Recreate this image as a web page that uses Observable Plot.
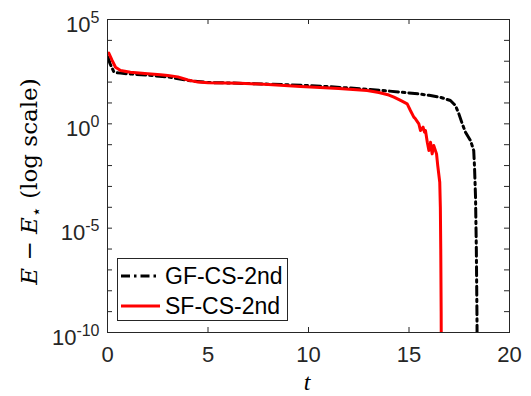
<!DOCTYPE html>
<html><head><meta charset="utf-8">
<script src="https://cdn.jsdelivr.net/npm/d3@7"></script>
<script src="https://cdn.jsdelivr.net/npm/@observablehq/plot@0.6"></script>
<style>
body{margin:0;background:#fff;}
#wrap{position:relative;width:531px;height:396px;}
#legend{position:absolute;left:117px;top:258px;width:171px;height:63px;border:1px solid #262626;background:#fff;
  font-family:"Liberation Sans",Arial,sans-serif;font-size:23px;color:#000;box-sizing:border-box;}
.row{position:absolute;left:3px;height:30px;display:flex;align-items:center;}
.row svg{margin-right:4px;}
</style></head><body><div id="wrap"><div id="legend"></div></div>
<script>
const seriesNames = ["GF-CS-2nd", "SF-CS-2nd"];
const seriesColors = ["#000000", "#ff0000"];
// GF-CS-2nd: time and log10(E - E*)
const gfT   = [0.02, 0.12, 0.31, 0.45, 0.65, 1.0, 2.0, 3.0, 4.0, 5.0, 6.0, 7.0, 8.0, 9.0, 10.0, 11.0, 12.0, 13.0, 14.0, 14.6, 15.5, 16.0, 16.57, 17.06, 17.31, 17.48, 17.65, 17.81, 18.06, 18.22, 18.26, 18.31, 18.35, 18.38, 18.40];
const gfLog = [3.2, 2.9, 2.5, 2.45, 2.43, 2.40, 2.33, 2.25, 2.08, 1.98, 1.96, 1.93, 1.90, 1.87, 1.83, 1.78, 1.72, 1.65, 1.57, 1.52, 1.43, 1.37, 1.27, 1.12, 0.88, 0.48, 0.0, -0.4, -0.8, -1.28, -2.08, -3.51, -6, -9, -12];
// SF-CS-2nd
const sfT   = [0.065, 0.23, 0.4, 0.65, 1.14, 2.0, 2.64, 3.0, 3.5, 4.0, 4.5, 5.0, 6.6, 8.0, 9.6, 10.1, 11.5, 12.92, 13.5, 14.0, 14.25, 14.58, 14.91, 15.07, 15.24, 15.32, 15.49, 15.57, 15.7, 15.77, 15.82, 15.91, 15.99, 16.07, 16.15, 16.23, 16.37, 16.43, 16.53, 16.56, 16.58, 16.6, 16.61];
const sfLog = [3.39, 3.04, 2.71, 2.56, 2.47, 2.40, 2.35, 2.32, 2.25, 2.1, 2.0, 1.97, 1.95, 1.88, 1.79, 1.76, 1.69, 1.6, 1.5, 1.38, 1.28, 1.12, 0.96, 0.64, 0.32, 0.24, 0.0, -0.32, -0.16, -0.4, -0.32, -0.88, -1.28, -0.88, -1.44, -1.04, -1.44, -2.0, -2.8, -4, -6, -9, -12];
const xTicks = [0, 5, 10, 15, 20];
const yTickExps = [-10, -9, -8, -7, -6, -5, -4, -3, -2, -1, 0, 1, 2, 3, 4, 5];
const yLabelExps = [-10, -5, 0, 5];

const data = [
  ...gfT.map((t, i) => ({t, v: Math.pow(10, gfLog[i]), s: seriesNames[0]})),
  ...sfT.map((t, i) => ({t, v: Math.pow(10, sfLog[i]), s: seriesNames[1]}))
];
const yTicks = yTickExps.map(e => Math.pow(10, e));
const yFmt = d => { const e = Math.round(Math.log10(d)); return yLabelExps.includes(e) ? `10^${e}` : ""; };
const axisColor = "#262626";
const dash = "9,4,2.5,4";
const W = 531, H = 396, mL = 107, mR = 22, mT = 19, mB = 64;
const innerW = W - mL - mR, innerH = H - mT - mB, tickLen = 5;

const plot = Plot.plot({
  width: W, height: H,
  marginLeft: mL, marginRight: mR, marginTop: mT, marginBottom: mB,
  style: {fontFamily: "'Liberation Sans', Arial, sans-serif", fontSize: "22px", color: axisColor, background: "#fff"},
  x: {domain: [0, 20], label: null},
  y: {type: "log", domain: [1e-10, 1e5], label: null},
  marks: [
    Plot.axisX({anchor: "bottom", ticks: xTicks, tickSize: 0, tickPadding: 14, tickFormat: d => String(d), label: null}),
    Plot.axisY({anchor: "left", ticks: yTicks, tickSize: 0, tickPadding: 8, tickFormat: yFmt, label: null}),
    // inward ticks on all four sides
    Plot.tickX(xTicks, {x: d => d, stroke: axisColor, insetTop: innerH - tickLen}),
    Plot.tickX(xTicks, {x: d => d, stroke: axisColor, insetBottom: innerH - tickLen}),
    Plot.tickY(yTicks, {y: d => d, stroke: axisColor, insetRight: innerW - tickLen}),
    Plot.tickY(yTicks, {y: d => d, stroke: axisColor, insetLeft: innerW - tickLen}),
    Plot.line(data.filter(d => d.s === seriesNames[0]), {x: "t", y: "v", stroke: seriesColors[0], strokeWidth: 3, strokeDasharray: dash, clip: true}),
    Plot.line(data.filter(d => d.s === seriesNames[1]), {x: "t", y: "v", stroke: seriesColors[1], strokeWidth: 3, clip: true}),
    Plot.frame({stroke: axisColor, strokeWidth: 1})
  ]
});
const wrap = document.getElementById("wrap");
wrap.insertBefore(plot, wrap.firstChild);
const ns = "http://www.w3.org/2000/svg";
const svg = d3.select(plot);

// superscript tick labels
plot.querySelectorAll('g[aria-label="y-axis tick label"] text').forEach(t => {
  const s = t.textContent;
  if (!s.includes("^")) return;
  const [b, e] = s.split("^");
  t.textContent = "";
  t.setAttribute("dy", "5");
  const t1 = document.createElementNS(ns, "tspan"); t1.textContent = b;
  const t2 = document.createElementNS(ns, "tspan"); t2.textContent = e;
  t2.setAttribute("dy", "-9"); t2.setAttribute("font-size", "16");
  t.append(t1, t2);
});

// axis labels (LaTeX-like)
const yl = svg.append("text")
  .attr("transform", "translate(37,181.5) rotate(-90)")
  .attr("text-anchor", "middle")
  .attr("font-family", "'DejaVu Serif', 'Liberation Serif', serif")
  .attr("font-size", 23).attr("fill", "#000");
yl.append("tspan").attr("font-style", "italic").text("E");
yl.append("tspan").text(" \u2212 ");
yl.append("tspan").attr("font-style", "italic").text("E");
yl.append("tspan").attr("font-size", 17).attr("dy", 5).text("\u22c6");
yl.append("tspan").attr("dy", -5).text(" (log scale)");

svg.append("text")
  .attr("x", 307).attr("y", 390)
  .attr("text-anchor", "middle")
  .attr("font-family", "'Liberation Serif', 'DejaVu Serif', serif")
  .attr("font-style", "italic").attr("font-size", 24).attr("fill", "#000")
  .text("t");

// legend
const legend = document.getElementById("legend");
seriesNames.forEach((name, i) => {
  const row = document.createElement("div");
  row.className = "row";
  row.style.top = (i * 30 + 2) + "px";
  const s = document.createElementNS(ns, "svg");
  s.setAttribute("width", 40); s.setAttribute("height", 10);
  const ln = document.createElementNS(ns, "line");
  ln.setAttribute("x1", 0); ln.setAttribute("x2", 39); ln.setAttribute("y1", 5); ln.setAttribute("y2", 5);
  ln.setAttribute("stroke", seriesColors[i]); ln.setAttribute("stroke-width", 3);
  if (i === 0) ln.setAttribute("stroke-dasharray", dash);
  s.appendChild(ln);
  const label = document.createElement("span");
  label.textContent = name;
  row.append(s, label);
  legend.appendChild(row);
});
</script>
</body></html>
